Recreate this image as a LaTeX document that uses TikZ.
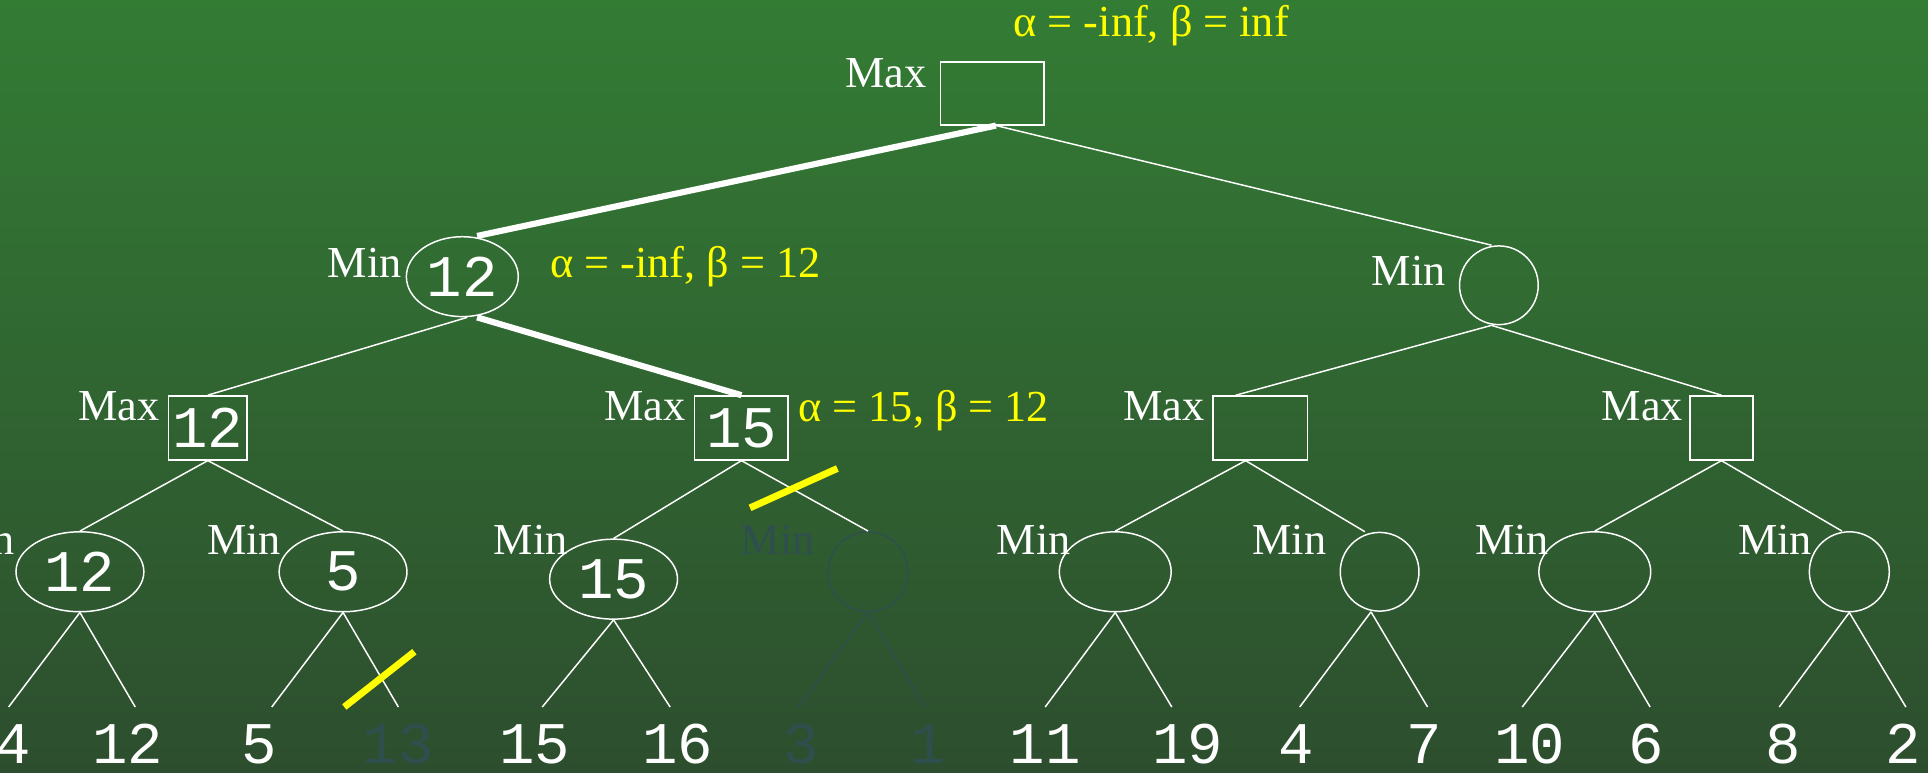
\documentclass[tikz,border=0pt]{standalone}
\usepackage{fontspec}
\setmainfont{Liberation Serif}
\newfontfamily\numfont{Liberation Mono}
\usetikzlibrary{shapes.geometric}
\definecolor{bgtop}{RGB}{51,124,52}
\definecolor{bgbot}{RGB}{45,78,46}
\definecolor{dimc}{RGB}{47,79,79}
\definecolor{yel}{RGB}{255,255,0}
\tikzset{
  lbl/.style={font=\fontsize{18}{21}\selectfont, text=white, anchor=base east, inner sep=0pt},
  ann/.style={font=\fontsize{18}{21}\selectfont, text=yel, anchor=base west, inner sep=0pt},
  num/.style={font=\numfont\fontsize{24}{28}\selectfont, text=white, inner sep=0pt},
  leaf/.style={num, anchor=base},
  maxbox/.style={draw=white, line width=0.6pt, rectangle, minimum height=26pt, inner sep=0pt},
  minell/.style={draw=white, line width=0.6pt, ellipse, minimum height=32.5pt, inner sep=0pt},
  edge/.style={draw=white, line width=0.6pt},
  bold/.style={draw=white, line width=2.5pt},
  cut/.style={draw=yel, line width=2.8pt},
  dimmed/.style={draw=dimc, text=dimc},
}
\begin{document}
\begin{tikzpicture}[x=0.5pt, y=-0.5pt]
\useasboundingbox (0,0) rectangle (1568,628);
\shade[top color=bgtop, bottom color=bgbot] (0,0) rectangle (1568,628);
\clip (0,0) rectangle (1568,628);

% root
\node[maxbox, minimum width=42pt, minimum height=25.5pt] (root) at (807,76) {};
\node[lbl] (rootl) at (754,71) {Max};
\node[ann] (al0) at (824,30) {α = -inf, β = inf};

% level 1
\node[minell, minimum width=45.5pt, label={[num]center:12}] (minL) at (376,225) {};
\node[lbl] (minLl) at (327,226) {Min};
\node[ann] (al1) at (447,226) {α = -inf, β = 12};
\node[minell, circle, minimum size=32pt] (minR) at (1219,232) {};
\node[lbl] (minRl) at (1176,232) {Min};

% level 2
\node[maxbox, minimum width=32pt, label={[num]center:12}] (A) at (169,348) {};
\node[lbl] (Al) at (130,342) {Max};
\node[maxbox, minimum width=38pt, label={[num]center:15}] (B) at (603,348) {};
\node[lbl] (Bl) at (558,342) {Max};
\node[ann] (al2) at (649,343) {α = 15, β = 12};
\node[maxbox, minimum width=38.5pt] (C) at (1025,348) {};
\node[lbl] (Cl) at (980,342) {Max};
\node[maxbox, minimum width=25.5pt] (D) at (1400,348) {};
\node[lbl] (Dl) at (1369,342) {Max};

% level 3
\node[minell, minimum width=52pt, label={[num]center:12}] (a1) at (65,465) {};
\node[lbl] (a1l) at (12,451) {Min};
\node[minell, minimum width=52pt, label={[num]center:5}] (a2) at (279,465) {};
\node[lbl] (a2l) at (229,451) {Min};
\node[minell, minimum width=52pt, label={[num]center:15}] (b1) at (499,471) {};
\node[lbl] (b1l) at (462,451) {Min};
\node[minell, dimmed, minimum width=32.5pt] (b2) at (706,465) {};
\node[lbl, text=dimc] (b2l) at (663,451) {Min};
\node[minell, minimum width=45.5pt] (c1) at (907,465) {};
\node[lbl] (c1l) at (871,451) {Min};
\node[minell, circle, minimum size=32pt] (c2) at (1122,465) {};
\node[lbl] (c2l) at (1079,451) {Min};
\node[minell, minimum width=45.5pt] (d1) at (1297,465) {};
\node[lbl] (d1l) at (1260,451) {Min};
\node[minell, circle, minimum size=32.5pt] (d2) at (1504,465) {};
\node[lbl] (d2l) at (1474,451) {Min};

% leaf line ends
\coordinate (e1) at (7,575);   \coordinate (e2) at (110,575);
\coordinate (e3) at (221,575); \coordinate (e4) at (324,575);
\coordinate (e5) at (441,575); \coordinate (e6) at (545,575);
\coordinate (e7) at (649,575); \coordinate (e8) at (752,575);
\coordinate (e9) at (850,575); \coordinate (e10) at (953,575);
\coordinate (e11) at (1057,575); \coordinate (e12) at (1161,575);
\coordinate (e13) at (1238,575); \coordinate (e14) at (1342,575);
\coordinate (e15) at (1447,575); \coordinate (e16) at (1550,575);

% leaves
\node[leaf] (v1) at (11,621) {4};
\node[leaf] (v2) at (104,621) {12};
\node[leaf] (v3) at (211,621) {5};
\node[leaf, text=dimc] (v4) at (324,621) {13};
\node[leaf] (v5) at (435,621) {15};
\node[leaf] (v6) at (551,621) {16};
\node[leaf, text=dimc] (v7) at (652,621) {3};
\node[leaf, text=dimc] (v8) at (755,621) {1};
\node[leaf] (v9) at (850,621) {11};
\node[leaf] (v10) at (966,621) {19};
\node[leaf] (v11) at (1054,621) {4};
\node[leaf] (v12) at (1158,621) {7};
\node[leaf] (v13) at (1244,621) {10};
\node[leaf] (v14) at (1339,621) {6};
\node[leaf] (v15) at (1450,621) {8};
\node[leaf] (v16) at (1548,621) {2};

% edges
\draw[bold] ([xshift=1.5pt]root.south) -- ([xshift=6pt]minL.north);
\draw[edge] ([xshift=1.5pt]root.south) -- ([xshift=-3pt]minR.north);
\draw[edge] ([xshift=2pt]minL.south) -- (A.north);
\draw[bold] ([xshift=6pt]minL.south) -- (B.north);
\draw[edge] ([xshift=-3pt]minR.south) -- ([xshift=-10pt]C.north);
\draw[edge] ([xshift=-3pt]minR.south) -- (D.north);

\draw[edge] (A.south) -- (a1.north);
\draw[edge] (A.south) -- (a2.north);
\draw[edge] (B.south) -- (b1.north);
\draw[edge] (B.south) -- (b2.north);
\draw[edge] ([xshift=-6pt]C.south) -- (c1.north);
\draw[edge] ([xshift=-6pt]C.south) -- ([xshift=-6pt]c2.north);
\draw[edge] (D.south) -- (d1.north);
\draw[edge] (D.south) -- ([xshift=-3pt]d2.north);

\draw[edge] (a1.south) -- (e1);
\draw[edge] (a1.south) -- (e2);
\draw[edge] (a2.south) -- (e3);
\draw[edge] (a2.south) -- (e4);
\draw[edge] (b1.south) -- (e5);
\draw[edge] (b1.south) -- (e6);
\draw[edge, dimmed] (b2.south) -- (e7);
\draw[edge, dimmed] (b2.south) -- (e8);
\draw[edge] (c1.south) -- (e9);
\draw[edge] (c1.south) -- (e10);
\draw[edge] ([xshift=-3.5pt]c2.south) -- (e11);
\draw[edge] ([xshift=-3.5pt]c2.south) -- (e12);
\draw[edge] (d1.south) -- (e13);
\draw[edge] (d1.south) -- (e14);
\draw[edge] (d2.south) -- (e15);
\draw[edge] (d2.south) -- (e16);

% cuts
\coordinate (k1a) at (610,413); \coordinate (k1b) at (681,381);
\draw[cut] (k1a) -- (k1b);
\coordinate (k2a) at (280,575); \coordinate (k2b) at (337,530);
\draw[cut] (k2a) -- (k2b);
\end{tikzpicture}
\end{document}
